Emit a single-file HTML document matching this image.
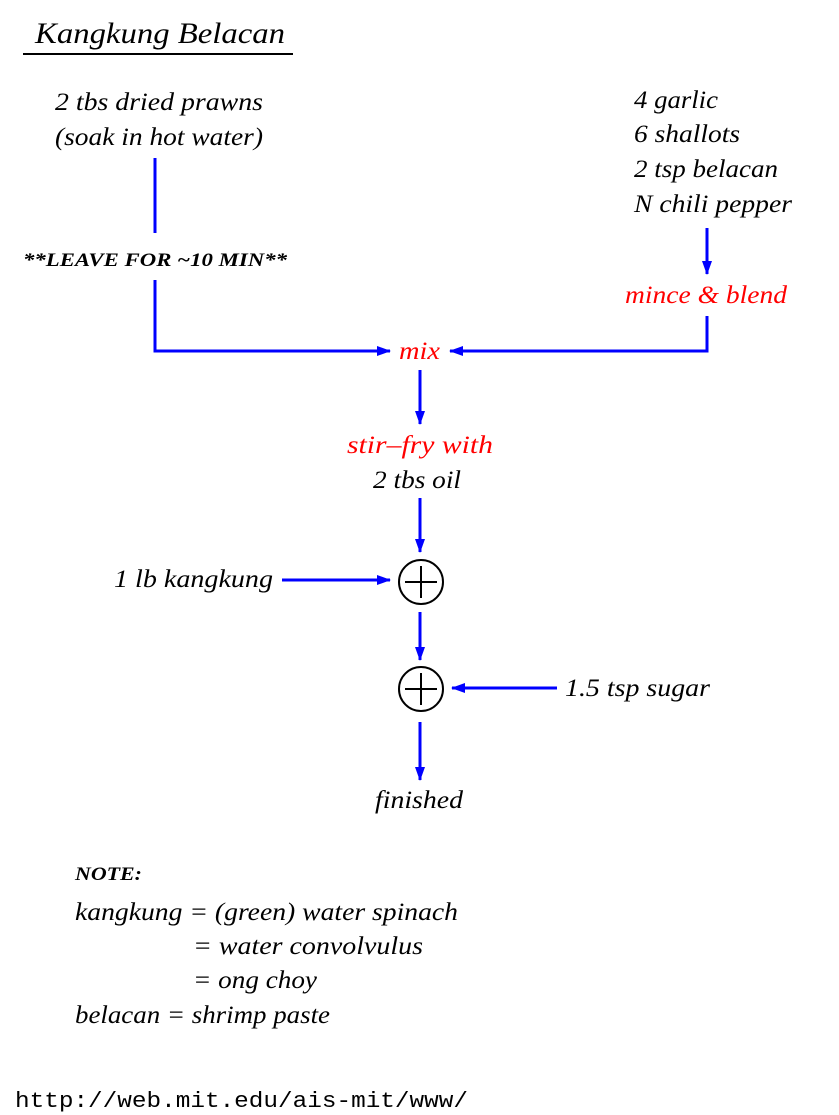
<!DOCTYPE html>
<html><head><meta charset="utf-8"><style>
html,body{margin:0;padding:0;background:#fff;}
svg{display:block;}
text{font-family:"Liberation Serif",serif;font-style:italic;font-size:25px;fill:#000;}
.r{fill:#f00;}
.b{font-weight:bold;font-size:19px;}
.m{font-family:"Liberation Mono",monospace;font-style:normal;font-size:22px;}
</style></head><body>
<svg width="839" height="1115" viewBox="0 0 839 1115" xmlns="http://www.w3.org/2000/svg">
<defs>
<marker id="a" markerWidth="14" markerHeight="10" refX="13" refY="5" orient="auto" markerUnits="userSpaceOnUse">
<path d="M0,0 L14,5 L0,10 Z" fill="#00f"/></marker>
</defs>
<text x="35" y="43" style="font-size:30px" textLength="250" lengthAdjust="spacingAndGlyphs">Kangkung Belacan</text>
<line x1="23" y1="54" x2="293" y2="54" stroke="#000" stroke-width="2"/>

<text x="55" y="110" textLength="208" lengthAdjust="spacingAndGlyphs">2 tbs dried prawns</text>
<text x="55" y="145" textLength="208" lengthAdjust="spacingAndGlyphs">(soak in hot water)</text>
<line x1="155" y1="158" x2="155" y2="233" stroke="#00f" stroke-width="3"/>
<text x="23" y="266" class="b" textLength="264" lengthAdjust="spacingAndGlyphs">**LEAVE  FOR ~10 MIN**</text>
<polyline points="155,280 155,351 390,351" fill="none" stroke="#00f" stroke-width="3" marker-end="url(#a)"/>
<text x="399" y="359" class="r" textLength="41" lengthAdjust="spacingAndGlyphs">mix</text>

<text x="634" y="108" textLength="84" lengthAdjust="spacingAndGlyphs">4 garlic</text>
<text x="634" y="142" textLength="106" lengthAdjust="spacingAndGlyphs">6 shallots</text>
<text x="634" y="177" textLength="144" lengthAdjust="spacingAndGlyphs">2 tsp belacan</text>
<text x="634" y="212" textLength="158" lengthAdjust="spacingAndGlyphs">N chili pepper</text>
<line x1="707" y1="228" x2="707" y2="274" stroke="#00f" stroke-width="3" marker-end="url(#a)"/>
<text x="625" y="303" class="r" textLength="162" lengthAdjust="spacingAndGlyphs">mince &amp; blend</text>
<polyline points="707,316 707,351 450,351" fill="none" stroke="#00f" stroke-width="3" marker-end="url(#a)"/>

<line x1="420" y1="370" x2="420" y2="424" stroke="#00f" stroke-width="3" marker-end="url(#a)"/>
<text x="347" y="453" class="r" textLength="146" lengthAdjust="spacingAndGlyphs">stir–fry with</text>
<text x="373" y="488" textLength="88" lengthAdjust="spacingAndGlyphs">2 tbs oil</text>
<line x1="420" y1="498" x2="420" y2="552" stroke="#00f" stroke-width="3" marker-end="url(#a)"/>

<circle cx="421" cy="582" r="22" fill="none" stroke="#000" stroke-width="2"/>
<line x1="405" y1="582" x2="437" y2="582" stroke="#000" stroke-width="2"/>
<line x1="421" y1="566" x2="421" y2="598" stroke="#000" stroke-width="2"/>
<text x="114" y="587" textLength="159" lengthAdjust="spacingAndGlyphs">1 lb kangkung</text>
<line x1="282" y1="580" x2="390" y2="580" stroke="#00f" stroke-width="3" marker-end="url(#a)"/>

<line x1="420" y1="612" x2="420" y2="660" stroke="#00f" stroke-width="3" marker-end="url(#a)"/>
<circle cx="421" cy="689" r="22" fill="none" stroke="#000" stroke-width="2"/>
<line x1="405" y1="689" x2="437" y2="689" stroke="#000" stroke-width="2"/>
<line x1="421" y1="673" x2="421" y2="705" stroke="#000" stroke-width="2"/>
<line x1="557" y1="688" x2="452" y2="688" stroke="#00f" stroke-width="3" marker-end="url(#a)"/>
<text x="565" y="696" textLength="145" lengthAdjust="spacingAndGlyphs">1.5 tsp sugar</text>

<line x1="420" y1="722" x2="420" y2="780" stroke="#00f" stroke-width="3" marker-end="url(#a)"/>
<text x="375" y="808" textLength="88" lengthAdjust="spacingAndGlyphs">finished</text>

<text x="75" y="880" class="b" textLength="67" lengthAdjust="spacingAndGlyphs">NOTE:</text>
<text x="75" y="920" textLength="383" lengthAdjust="spacingAndGlyphs">kangkung = (green) water spinach</text>
<text x="193" y="954" textLength="230" lengthAdjust="spacingAndGlyphs">= water convolvulus</text>
<text x="193" y="988" textLength="124" lengthAdjust="spacingAndGlyphs">= ong choy</text>
<text x="75" y="1023" textLength="255" lengthAdjust="spacingAndGlyphs">belacan = shrimp paste</text>

<text x="15" y="1107" class="m" textLength="453" lengthAdjust="spacingAndGlyphs">http://web.mit.edu/ais-mit/www/</text>
</svg>
</body></html>
